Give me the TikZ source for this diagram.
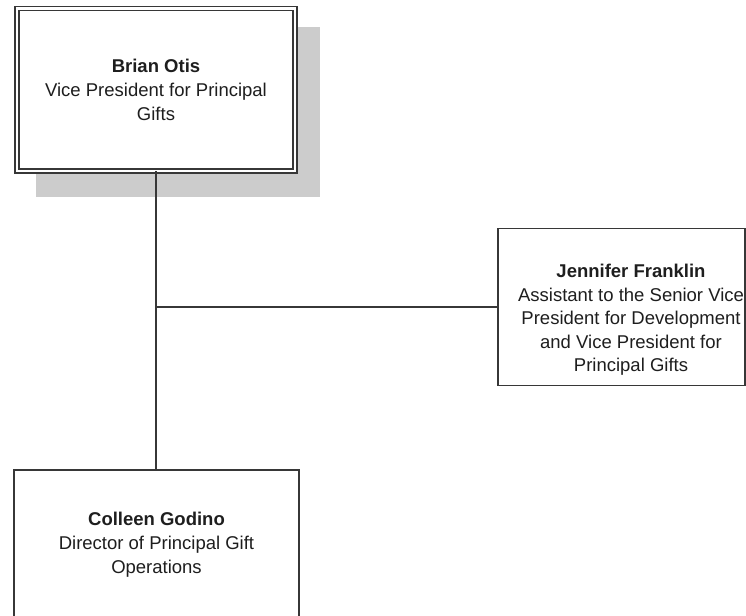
\documentclass[tikz,border=0pt]{standalone}
\usepackage{fontspec}
\setmainfont{Liberation Sans}
\usetikzlibrary{positioning,backgrounds}
\definecolor{linegray}{RGB}{55,55,55}
\definecolor{shadowgray}{RGB}{204,204,204}
\definecolor{textgray}{RGB}{30,30,30}
\tikzset{
  person/.style={draw=linegray, line width=1.3pt, fill=white, outer sep=0pt,
    inner sep=0pt, align=center, text=textgray,
    font=\fontsize{18.5}{24}\selectfont},
  head/.style={person, double=white, double distance=2.8pt, line width=1.2pt},
  persontext/.style={inner sep=0pt, align=center, text=textgray,
    font=\fontsize{18.5}{23.5}\selectfont},
  link/.style={draw=linegray, line width=1.5pt},
}
\begin{document}
\begin{tikzpicture}[x=1pt,y=-1pt]
  \useasboundingbox (0,0) rectangle (746,615);
  \clip (0,0) rectangle (746,615);
  % boxes
  \node[head, minimum width=278pt, minimum height=162.5pt] (otis) at (156,89.75)
    {\textbf{Brian Otis}\\Vice President for Principal\\Gifts};
  \node[person, minimum width=247pt, minimum height=157pt] (franklin) at (621.5,307) {};
  \node[persontext] (franklintext) at ([shift={(9.5,13)}]franklin.center)
    {\textbf{Jennifer Franklin}\\Assistant to the Senior Vice\\President for Development\\and Vice President for\\Principal Gifts};
  \node[person, minimum width=285pt, minimum height=150pt] (godino) at (156.5,545)
    {\textbf{Colleen Godino}\\Director of Principal Gift\\Operations};
  % shadow of the top box
  \begin{scope}[on background layer]
    \fill[shadowgray] ([shift={(19,19)}]otis.north west) rectangle ([shift={(25,26)}]otis.south east);
  \end{scope}
  % connectors
  \draw[link] (otis.south) -- (otis.south |- godino.north);
  \draw[link] (otis.south |- franklin.west) -- (franklin.west);
\end{tikzpicture}
\end{document}
